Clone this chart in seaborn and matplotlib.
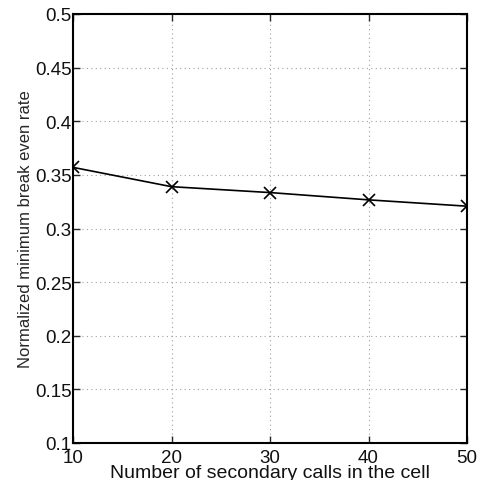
import pandas as pd
import seaborn as sns
import matplotlib.pyplot as plt

secondary_calls = [10, 20, 30, 40, 50]
break_even_rate = [0.357, 0.339, 0.3335, 0.3267, 0.3208]

x_ticks = [10, 20, 30, 40, 50]
y_ticks = [0.1, 0.15, 0.2, 0.25, 0.3, 0.35, 0.4, 0.45, 0.5]
y_tick_labels = ["0.1", "0.15", "0.2", "0.25", "0.3", "0.35", "0.4", "0.45", "0.5"]


def main():
    sns.set_style("ticks")
    plt.rcParams['font.family'] = ['Liberation Sans', 'DejaVu Sans']

    df = pd.DataFrame({"calls": secondary_calls, "rate": break_even_rate})

    fig = plt.figure(figsize=(4.8, 4.81), dpi=100)
    ax = fig.add_axes([73 / 480, 1 - 444 / 481, 394 / 480, 429 / 481])

    sns.lineplot(data=df, x="calls", y="rate", ax=ax, color="black",
                 marker="x", markersize=8, markeredgewidth=1.2,
                 markeredgecolor="black", linewidth=1.2)

    ax.set_xlim(10, 50)
    ax.set_ylim(0.1, 0.5)
    ax.set_xticks(x_ticks)
    ax.set_yticks(y_ticks)
    ax.set_yticklabels(y_tick_labels)
    ax.grid(True, linestyle=(0, (1, 3)), color="#a0a0a0", linewidth=0.8)

    for s in ax.spines.values():
        s.set_linewidth(1.5)
        s.set_color("black")
    ax.tick_params(direction="in", top=True, right=True, length=5,
                   width=1, labelsize=13.5, labelcolor="#111111")
    ax.tick_params(axis="y", pad=1)
    ax.tick_params(axis="x", pad=4)

    ax.set_xlabel("Number of secondary calls in the cell", fontsize=14, color="#111111")
    ax.xaxis.set_label_coords(0.5, -21 / 429)
    ax.set_ylabel("Normalized minimum break even rate", fontsize=12, labelpad=1)

    fig.savefig("out.png", dpi=100)


if __name__ == "__main__":
    main()
